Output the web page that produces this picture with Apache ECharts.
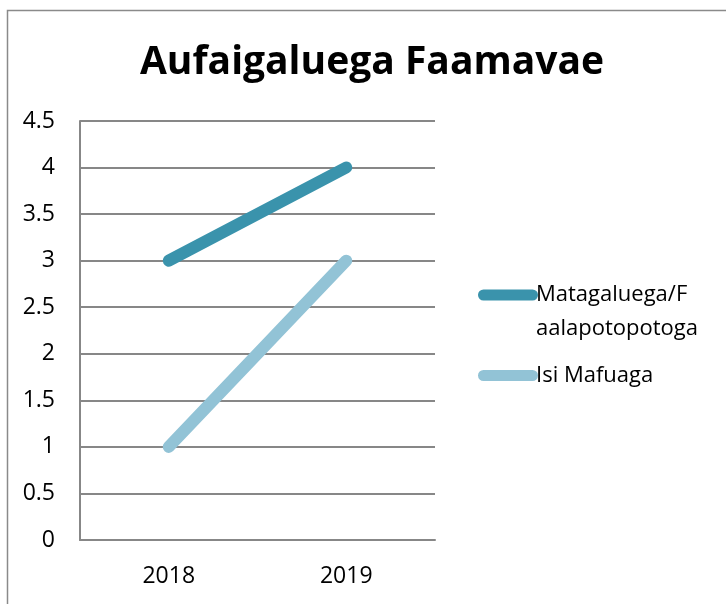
<!DOCTYPE html>
<html>
<head>
<meta charset="utf-8">
<script src="https://cdn.jsdelivr.net/npm/echarts@6/dist/echarts.min.js"></script>
<style>html,body{margin:0;padding:0;background:#fff;}#c{width:726px;height:604px;}</style>
</head>
<body>
<div id="c"></div>
<script>
const titleText = 'Aufaigaluega Faamavae';
const categories = ['2018', '2019'];
const seriesNames = ['Matagaluega/Faalapotopotoga', 'Isi Mafuaga'];
const matagaluegaValues = [3, 4];
const isiMafuagaValues = [1, 3];
const yMin = 0, yMax = 4.5, yInterval = 0.5;

const FONT = '"Open Sans", sans-serif';
const colors = ['#3A93AC', '#92C3D6'];
const gridColor = '#878787';

const chart = echarts.init(document.getElementById('c'), null, {renderer: 'canvas'});
chart.setOption({
  animation: false,
  backgroundColor: '#fff',
  graphic: [{
    type: 'rect', left: 5, top: 8, shape: {width: 760, height: 640},
    style: {fill: 'none', stroke: '#8a8a8a', lineWidth: 1.5}, silent: true
  }],
  title: {
    text: titleText, left: 367, top: 38, textAlign: 'center',
    textStyle: {fontFamily: FONT, fontSize: 39, fontWeight: 'bold', color: '#000'}
  },
  grid: {left: 80, right: 291, top: 121, bottom: 64},
  legend: {
    orient: 'vertical', left: 473, top: 273, itemGap: 7,
    itemWidth: 60, itemHeight: 45,
    textStyle: {fontFamily: FONT, fontSize: 22, color: '#000', lineHeight: 34, padding: [0,0,0,-7]},
    formatter: function (name) { return name === seriesNames[0] ? 'Matagaluega/F\naalapotopotoga' : name; },
    data: [
      {name: seriesNames[0], icon: 'path://M5.5,0 L54.5,0 A5.5,5.5 0 0 1 54.5,11 L5.5,11 A5.5,5.5 0 0 1 5.5,0 Z M0,45 L0.01,45'},
      {name: seriesNames[1], icon: 'path://M0,0 L0.01,0 M5.5,17 L54.5,17 A5.5,5.5 0 0 1 54.5,28 L5.5,28 A5.5,5.5 0 0 1 5.5,17 Z M0,45 L0.01,45'}
    ]
  },
  xAxis: {
    type: 'category', data: categories, boundaryGap: true,
    axisLine: {lineStyle: {color: gridColor, width: 2}},
    axisTick: {show: false},
    axisLabel: {fontFamily: FONT, fontSize: 23, color: '#000', margin: 25}
  },
  yAxis: {
    type: 'value', min: yMin, max: yMax, interval: yInterval,
    axisLine: {show: true, lineStyle: {color: gridColor, width: 2}},
    axisTick: {show: false},
    axisLabel: {fontFamily: FONT, fontSize: 23, color: '#000', margin: 25},
    splitLine: {lineStyle: {color: gridColor, width: 2}}
  },
  series: [
    {name: seriesNames[0], type: 'line', data: matagaluegaValues, showSymbol: false, symbol: 'none',
     lineStyle: {color: colors[0], width: 12, cap: 'round'}, itemStyle: {color: colors[0]}},
    {name: seriesNames[1], type: 'line', data: isiMafuagaValues, showSymbol: false, symbol: 'none',
     lineStyle: {color: colors[1], width: 12, cap: 'round'}, itemStyle: {color: colors[1]}}
  ]
});
</script>
</body>
</html>
